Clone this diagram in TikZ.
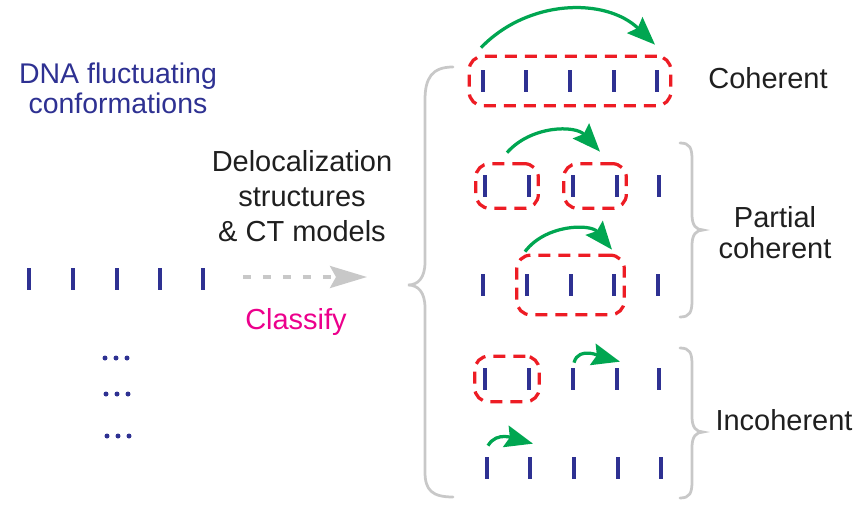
\documentclass[tikz,border=0pt]{standalone}
\usepackage{fontspec}
\setmainfont{Liberation Sans}
\usetikzlibrary{calc}
\usetikzlibrary{arrows.meta}
\usetikzlibrary{positioning}
\usetikzlibrary{fit}
\definecolor{dnablue}{RGB}{46,49,146}
\definecolor{hopgreen}{RGB}{0,166,81}
\definecolor{boxred}{RGB}{237,28,36}
\definecolor{classpink}{RGB}{236,0,140}
\definecolor{bracegray}{RGB}{200,200,200}
\tikzset{base/.style={fill=dnablue,inner sep=0pt,minimum width=0.08cm,minimum height=0.44cm}}
\tikzset{dot/.style={circle,fill=dnablue,inner sep=0pt,minimum size=0.1cm}}

\begin{document}
\begin{tikzpicture}[x=0.02cm,y=-0.02cm]
\tikzstyle{lbl} = [font=\fontsize{16.5}{18}\selectfont, align=center, text=black!88]
\tikzstyle{cbox} = [draw=boxred, line width=0.065cm, dash pattern=on 0.24cm off 0.16cm, rounded corners=0.28cm, inner sep=0.15cm]
\tikzstyle{hop} = [draw=hopgreen, line width=0.065cm, -{Stealth[length=0.56cm,width=0.44cm,inset=0.08cm]}]
\tikzstyle{flow} = [draw=bracegray, line width=0.07cm, dash pattern=on 0.16cm off 0.24cm, -{Stealth[length=0.74cm,width=0.44cm,inset=0.12cm]}]
\tikzstyle{brc} = [draw=bracegray, line width=0.055cm, line cap=round]
\useasboundingbox (0,0) rectangle (859,507);

% left side: one conformation
\node[lbl, text=dnablue, font=\fontsize{16.2}{17}\selectfont] (dna) at (118,88) {DNA fluctuating\\conformations};
\node[base] (l1) at (29,279){};
\node[base] (l2) at (73,279){};
\node[base] (l3) at (117,279){};
\node[base] (l4) at (160,279){};
\node[base] (l5) at (203,279){};

\node[dot] (d1a) at (105,358){};
\node[dot] (d1b) at (116,358){};
\node[dot] (d1c) at (127,358){};
\node[dot] (d2a) at (106,394){};
\node[dot] (d2b) at (117,394){};
\node[dot] (d2c) at (128,394){};
\node[dot] (d3a) at (107,436){};
\node[dot] (d3b) at (118,436){};
\node[dot] (d3c) at (129,436){};

\node[lbl, font=\fontsize{16.5}{20}\selectfont] (deloc) at (302,196) {Delocalization\\structures\\\& CT models};
\node[lbl, text=classpink] (cls) at (296,322) {Classify};
\coordinate (ain) at (243,277);
\coordinate (aout) at (367,277);
\draw[flow] (ain) -- (aout);

% big brace
\draw[brc] (453,67) .. controls (432,67) and (425,78) .. (425,100) -- (425,262)
  .. controls (425,278) and (418,285) .. (408,285)
  .. controls (418,285) and (425,292) .. (425,308) -- (425,472)
  .. controls (425,490) and (432,497) .. (453,497);

% coherent
\node[base] (c1) at (483,81){};
\node[base] (c2) at (526,81){};
\node[base] (c3) at (570,81){};
\node[base] (c4) at (614,81){};
\node[base] (c5) at (657,81){};
\node[cbox, inner xsep=0.23cm, inner ysep=0.27cm, fit=(c1)(c5)] (bc) {};
\draw[hop] ($(c1.north)+(-2,-22)$) to[bend left=45] ($(c5.north)+(-2,-25)$);
\node[lbl] (coh) at (768,78) {Coherent};

% partial coherent
\node[base] (p1) at (485,186){};
\node[base] (p2) at (529,186){};
\node[base] (p3) at (573,186){};
\node[base] (p4) at (617,186){};
\node[base] (p5) at (659,186){};
\node[cbox, inner xsep=0.14cm, inner ysep=0.22cm, fit=(p1)(p2)] (bp1) {};
\node[cbox, inner xsep=0.14cm, inner ysep=0.22cm, fit=(p3)(p4)] (bp2) {};
\draw[hop] ($(p1.north)+(22,-22)$) to[bend left=48] ($(p4.north)+(-17,-23)$);

\node[base] (q1) at (483,285){};
\node[base] (q2) at (527,285){};
\node[base] (q3) at (571,285){};
\node[base] (q4) at (614,285){};
\node[base] (q5) at (658,285){};
\node[cbox, inner xsep=0.16cm, inner ysep=0.37cm, fit=(q2)(q4)] (bq) {};
\draw[hop] ($(q2.north)+(-2,-22)$) to[bend left=52] ($(q4.north)+(-2,-24)$);

\draw[brc] (680,143) .. controls (690,143) and (692,148) .. (692,160) -- (692,215)
  .. controls (692,225) and (696,230) .. (703,230)
  .. controls (696,230) and (692,235) .. (692,245) -- (692,300)
  .. controls (692,312) and (690,317) .. (680,317);
\node[lbl, font=\fontsize{16.5}{17.6}\selectfont] (pcoh) at (775,233) {Partial\\coherent};

% incoherent
\node[base] (i1) at (485,379){};
\node[base] (i2) at (529,379){};
\node[base] (i3) at (573,379){};
\node[base] (i4) at (617,379){};
\node[base] (i5) at (659,379){};
\node[cbox, inner xsep=0.16cm, inner ysep=0.23cm, fit=(i1)(i2)] (bi) {};
\draw[hop] ($(i3.north)+(1,-5)$) to[out=75,in=165] ($(i4.north)+(3,-6)$);

\node[base] (j1) at (487,468){};
\node[base] (j2) at (530,468){};
\node[base] (j3) at (574,468){};
\node[base] (j4) at (618,468){};
\node[base] (j5) at (661,468){};
\draw[hop] ($(j1.north)+(1,-11)$) to[out=60,in=165] ($(j2.north)+(3,-13)$);

\draw[brc] (680,348) .. controls (690,348) and (692,353) .. (692,365) -- (692,417)
  .. controls (692,427) and (696,432) .. (703,432)
  .. controls (696,432) and (692,437) .. (692,447) -- (692,481)
  .. controls (692,493) and (690,498) .. (680,498);
\node[lbl] (incoh) at (784,420) {Incoherent};
\end{tikzpicture}
\end{document}
